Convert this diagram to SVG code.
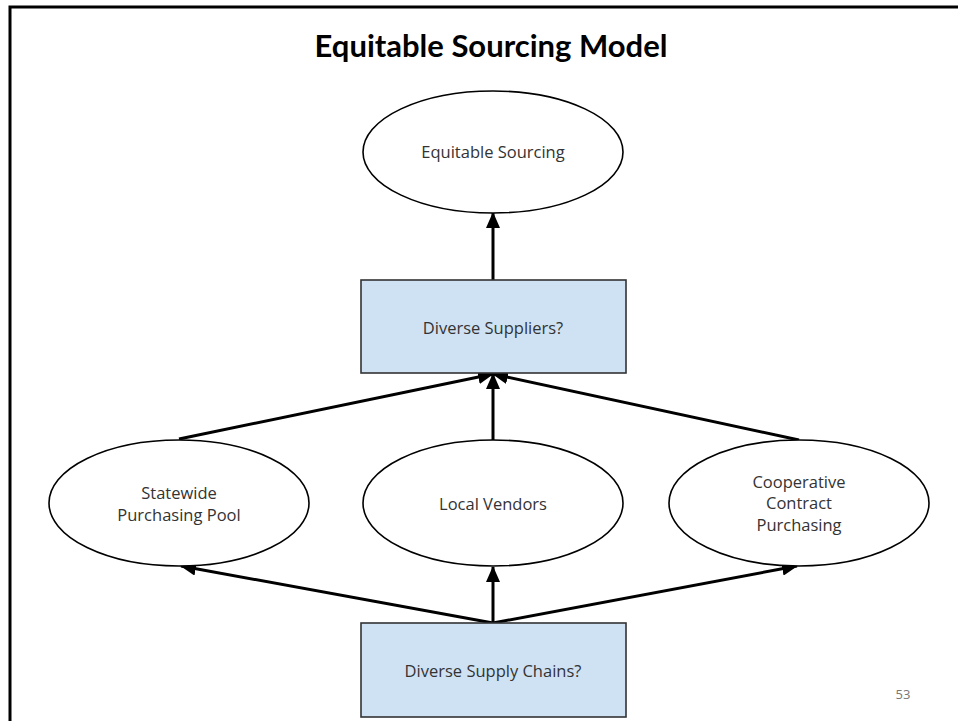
<svg xmlns="http://www.w3.org/2000/svg" width="958" height="721" viewBox="0 0 958 721">
<style>
.ell{fill:#fff;stroke:#000;stroke-width:1.6}
.box{fill:#cfe2f3;stroke:#333;stroke-width:1.6}
.lbl{font-family:"Open Sans","Liberation Sans",sans-serif;font-size:16.5px;fill:#333;text-anchor:middle}
.title{font-family:"Lato","Liberation Sans",sans-serif;font-size:31px;font-weight:bold;fill:#000;text-anchor:middle}
.edge{stroke:#000;stroke-width:3;fill:none}
</style>
<defs>
<marker id="ah" markerUnits="userSpaceOnUse" markerWidth="16" markerHeight="14" refX="15" refY="7" orient="auto">
<path d="M0,0 L16,7 L0,14 Z" fill="#000"/>
</marker>
</defs>
<rect width="958" height="721" fill="#fff"/>
<path d="M10,721 V7 H958" fill="none" stroke="#000" stroke-width="3"/>
<text class="title" x="491" y="57">Equitable Sourcing Model</text>
<g id="connectors">
<line class="edge" x1="493" y1="280" x2="493" y2="213" marker-end="url(#ah)"/>
<line class="edge" x1="179" y1="439" x2="493" y2="374" marker-end="url(#ah)"/>
<line class="edge" x1="493" y1="440" x2="493" y2="374" marker-end="url(#ah)"/>
<line class="edge" x1="799" y1="440" x2="493" y2="374" marker-end="url(#ah)"/>
<line class="edge" x1="493" y1="623" x2="181" y2="566" marker-end="url(#ah)"/>
<line class="edge" x1="493" y1="623" x2="493" y2="567" marker-end="url(#ah)"/>
<line class="edge" x1="493" y1="623" x2="797" y2="566" marker-end="url(#ah)"/>
</g>
<g id="n-equitable">
<ellipse class="ell" cx="493" cy="152" rx="130" ry="61"/>
<text class="lbl" x="493" y="158">Equitable Sourcing</text>
</g>
<g id="n-suppliers">
<rect class="box" x="361" y="280" width="265" height="93"/>
<text class="lbl" x="493" y="334">Diverse Suppliers?</text>
</g>
<g id="n-statewide">
<ellipse class="ell" cx="179" cy="503" rx="130" ry="63"/>
<text class="lbl" x="179" y="499">Statewide</text>
<text class="lbl" x="179" y="521">Purchasing Pool</text>
</g>
<g id="n-local">
<ellipse class="ell" cx="493" cy="503" rx="130" ry="63"/>
<text class="lbl" x="493" y="510">Local Vendors</text>
</g>
<g id="n-cooperative">
<ellipse class="ell" cx="799" cy="503" rx="130" ry="63"/>
<text class="lbl" x="799" y="488">Cooperative</text>
<text class="lbl" x="799" y="509">Contract</text>
<text class="lbl" x="799" y="531">Purchasing</text>
</g>
<g id="n-chains">
<rect class="box" x="361" y="623" width="265" height="94"/>
<text class="lbl" x="493" y="677">Diverse Supply Chains?</text>
</g>
<text x="903" y="699" font-family="'Open Sans', 'Liberation Sans', sans-serif" font-size="13" fill="#777" text-anchor="middle">53</text>
</svg>
